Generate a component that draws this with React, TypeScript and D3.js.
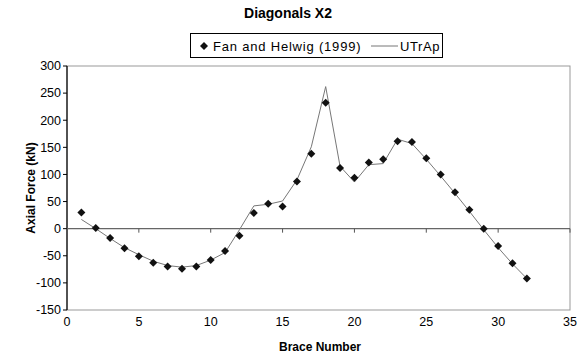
import React from "react";
import * as d3 from "d3";

const braces = d3.range(1, 33);
const fanHelwig = [30, 1, -17, -36, -51, -63, -70, -74, -70, -58, -41, -13, 29, 46, 41, 87, 138, 232, 112, 94, 122, 128, 161, 160, 130, 100, 67, 35, 0, -32, -64, -92];
const utrap = [17, 0, -18, -35, -48, -60, -68, -71, -68, -58, -44, -2, 42, 45, 51, 90, 151, 262, 115, 86, 118, 120, 165, 157, 128, 97, 65, 32, -2, -35, -65, -92];
const xTicks = [0, 5, 10, 15, 20, 25, 30, 35];
const yTicks = [-150, -100, -50, 0, 50, 100, 150, 200, 250, 300];

const W = 588, H = 356;
const L = 67, R = 570, T = 66, B = 310;
const font = "'Liberation Sans', Arial, sans-serif";
const dr = 4;
const diamond = `M0,${-dr}L${dr},0L0,${dr}L${-dr},0Z`;

export default function App() {
  const x = d3.scaleLinear().domain([0, 35]).range([L, R]);
  const y = d3.scaleLinear().domain([-150, 300]).range([B, T]);
  const line = d3.line<number>().x((_, i) => x(braces[i])).y((d) => y(d));
  return (
    <svg width={W} height={H} style={{ position: "absolute", left: 0, top: 0, background: "#fff" }} fontFamily={font}>
      <rect x={0} y={0} width={W} height={H} fill="#fff" />
      <text x={288} y={18} textAnchor="middle" fontSize={14} fontWeight="bold">Diagonals X2</text>
      {/* plot border */}
      <rect x={L} y={T} width={R - L} height={B - T} fill="none" stroke="#999" strokeWidth={1} />
      {/* y axis */}
      <line x1={L} x2={L} y1={T} y2={B} stroke="#000" strokeWidth={1.2} />
      {yTicks.map((t) => (
        <g key={t}>
          <line x1={L - 4} x2={L} y1={y(t)} y2={y(t)} stroke="#000" />
          <text x={L - 6} y={y(t)} dy="0.35em" textAnchor="end" fontSize={12.5}>{t}</text>
        </g>
      ))}
      {/* x axis at zero */}
      <line x1={L} x2={R} y1={y(0)} y2={y(0)} stroke="#666" strokeWidth={1.2} />
      {xTicks.map((t) => (
        <g key={t}>
          <line x1={x(t)} x2={x(t)} y1={y(0)} y2={y(0) + 4} stroke="#555" />
          <text x={x(t)} y={322} dy="0.35em" textAnchor="middle" fontSize={12.5}>{t}</text>
        </g>
      ))}
      <path d={line(utrap) || ""} fill="none" stroke="#777" strokeWidth={1} />
      {fanHelwig.map((v, i) => (
        <path key={i} d={diamond} transform={`translate(${x(braces[i])},${y(v)})`} fill="#111" />
      ))}
      <text x={320} y={347} dy="0.35em" textAnchor="middle" fontSize={12} fontWeight="bold">Brace Number</text>
      <text transform={`translate(31,${(T + B) / 2}) rotate(-90)`} textAnchor="middle" dy="0.35em" fontSize={12} fontWeight="bold">Axial Force (kN)</text>
      {/* legend */}
      <rect x={190.5} y={33.5} width={252} height={24} fill="#fff" stroke="#000" />
      <path d={diamond} transform="translate(204,46)" fill="#111" />
      <text x={213} y={46} dy="0.35em" fontSize={13} letterSpacing={0.8}>Fan and Helwig (1999)</text>
      <line x1={371} x2={398} y1={46} y2={46} stroke="#777" />
      <text x={440} y={46} dy="0.35em" textAnchor="end" fontSize={13} letterSpacing={0.6}>UTrAp</text>
    </svg>
  );
}
